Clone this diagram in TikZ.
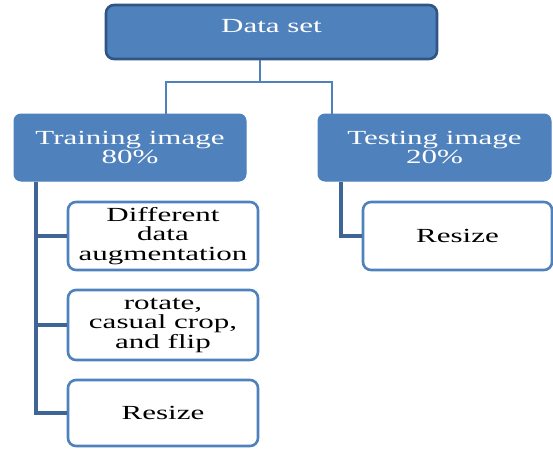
\documentclass[tikz,border=0pt]{standalone}
\usepackage{fontspec}
\setmainfont{Liberation Serif}[FakeStretch=1.55]
\usetikzlibrary{calc}
\definecolor{boxblue}{HTML}{4F81BD}
\definecolor{darkedge}{HTML}{2F5584}
\definecolor{trunkblue}{HTML}{3F6496}
\tikzset{
  txt/.style={font=\fontsize{20}{19.5}\selectfont, align=center, inner sep=0pt},
  topbox/.style={txt, rectangle, rounded corners=8pt, fill=boxblue, draw=darkedge,
    line width=2.6pt, text=white},
  midbox/.style={txt, rectangle, rounded corners=7pt, fill=boxblue, draw=boxblue,
    line width=1pt, text=white},
  leafbox/.style={txt, rectangle, rounded corners=8pt, fill=white, draw=boxblue,
    line width=2.6pt, text=black},
  upper link/.style={draw=boxblue, line width=1.8pt},
  trunk link/.style={draw=trunkblue, line width=3.5pt},
}
\begin{document}
\begin{tikzpicture}[x=1pt,y=-1pt]
\useasboundingbox (0,0) rectangle (553,448);

% root and the two split nodes
\node[topbox, minimum width=331pt, minimum height=54pt, text height=9pt, text depth=9pt]
  (ds) at (271.5,32) {Data set};
\node[midbox, minimum width=232pt, minimum height=67pt] (tr) at (130,147.5) {Training image\\80\%};
\node[midbox, minimum width=233pt, minimum height=67pt] (te) at (434.5,147.5) {Testing image\\20\%};

% processing steps
\node[leafbox, minimum width=190pt, minimum height=68pt] (c1) at (163,236) {Different\\data\\augmentation};
\node[leafbox, minimum width=190pt, minimum height=70pt] (c2) at (163,325) {rotate,\\casual crop,\\and flip};
\node[leafbox, minimum width=190pt, minimum height=66pt] (c3) at (163,413) {Resize};
\node[leafbox, minimum width=189pt, minimum height=68pt] (c4) at (457.5,236) {Resize};

% branching from the root
\coordinate (j) at (260,82);
\draw[upper link] (j |- ds.south) -- (j);
\draw[upper link] (j) -| ($(tr.north)+(36,0)$);
\draw[upper link] (j) -| ($(te.north)+(-102.5,0)$);

% trunks down to the steps
\coordinate (trk) at (36,0);
\coordinate (tek) at (341,0);
\draw[trunk link] (tr.south -| trk) |- (c3.west);
\draw[trunk link] (trk |- c1.west) -- (c1.west);
\draw[trunk link] (trk |- c2.west) -- (c2.west);
\draw[trunk link] (te.south -| tek) |- (c4.west);
\end{tikzpicture}
\end{document}
